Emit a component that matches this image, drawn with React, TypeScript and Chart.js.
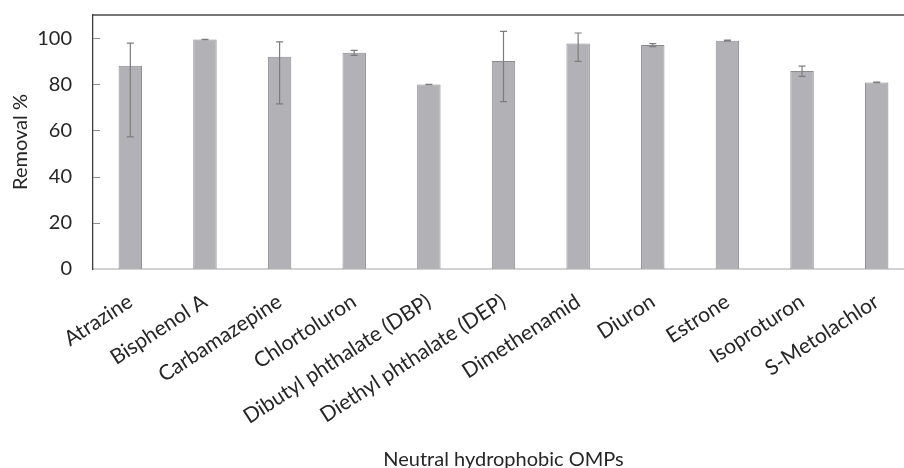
import React, { useEffect, useRef } from "react";
import { Chart, registerables } from "chart.js";

Chart.register(...registerables);

const categories = [
  "Atrazine",
  "Bisphenol A",
  "Carbamazepine",
  "Chlortoluron",
  "Dibutyl phthalate (DBP)",
  "Diethyl phthalate (DEP)",
  "Dimethenamid",
  "Diuron",
  "Estrone",
  "Isoproturon",
  "S-Metolachlor",
];

// mean removal (%)
const removal = [88.0, 99.4, 91.9, 93.7, 79.9, 90.1, 97.7, 97.0, 98.9, 85.7, 80.8];
// error bar extents (%)
const errLow = [57.2, 99.3, 71.5, 92.5, 79.8, 72.5, 89.9, 96.3, 98.8, 83.4, 80.7];
const errHigh = [97.8, 99.5, 98.4, 94.7, 80.0, 102.9, 102.2, 97.6, 99.1, 87.9, 80.9];

const yTicks = [0, 20, 40, 60, 80, 100];

const xTitle = "Neutral hydrophobic OMPs";
const yTitle = "Removal %";

const FONT = "Lato, 'Open Sans', sans-serif";
const TEXT = "#262626";
const FONT_SIZE = 20;

const errorBars = {
  id: "errorBars",
  afterDatasetsDraw(chart: any) {
    const meta = chart.getDatasetMeta(0);
    const y = chart.scales.y;
    const ctx = chart.ctx;
    ctx.save();
    ctx.strokeStyle = "#7c7c7c";
    ctx.lineWidth = 1.2;
    meta.data.forEach((bar: any, i: number) => {
      const x = bar.x;
      const yl = y.getPixelForValue(errLow[i]);
      const yh = y.getPixelForValue(errHigh[i]);
      const cap = 3.5;
      ctx.beginPath();
      ctx.moveTo(x, yl);
      ctx.lineTo(x, yh);
      ctx.moveTo(x - cap, yl);
      ctx.lineTo(x + cap, yl);
      ctx.moveTo(x - cap, yh);
      ctx.lineTo(x + cap, yh);
      ctx.stroke();
    });
    ctx.restore();
  },
};

// inward y tick marks, top frame line and the two axis titles
const frameAndTitles = {
  id: "frameAndTitles",
  afterDraw(chart: any) {
    const { left, right, top, bottom } = chart.chartArea;
    const y = chart.scales.y;
    const ctx = chart.ctx;
    ctx.save();

    ctx.strokeStyle = "#8e8e8e";
    ctx.lineWidth = 1.2;
    ctx.beginPath();
    yTicks.forEach((v) => {
      if (v === 0) return;
      const py = Math.round(y.getPixelForValue(v)) + 0.5;
      ctx.moveTo(left, py);
      ctx.lineTo(left + 7, py);
    });
    ctx.stroke();

    ctx.strokeStyle = "#4a4a4a";
    ctx.lineWidth = 1.3;
    ctx.beginPath();
    ctx.moveTo(left, top);
    ctx.lineTo(right, top);
    ctx.stroke();

    ctx.fillStyle = TEXT;
    ctx.font = `${FONT_SIZE}px ${FONT}`;
    ctx.textAlign = "center";
    ctx.textBaseline = "alphabetic";
    ctx.fillText(xTitle, (left + right) / 2, 466);

    ctx.translate(27, (top + bottom) / 2);
    ctx.rotate(-Math.PI / 2);
    ctx.fillText(yTitle, 0, 0);
    ctx.restore();
  },
};

export default function App() {
  const ref = useRef<HTMLCanvasElement>(null);

  useEffect(() => {
    if (!ref.current) return;
    const chart = new Chart(ref.current, {
      type: "bar",
      data: {
        labels: categories,
        datasets: [
          {
            data: removal,
            backgroundColor: "#b2b2b6",
            borderColor: "#8c8c90",
            borderWidth: 1,
            categoryPercentage: 1,
            barPercentage: 0.314,
          },
        ],
      },
      options: {
        animation: false,
        responsive: false,
        layout: { padding: { top: 15, right: 11, left: 0, bottom: 0 } },
        plugins: {
          legend: { display: false },
          tooltip: { enabled: false },
        },
        scales: {
          x: {
            grid: { display: false },
            border: { display: true, color: "#d2d2d2", width: 2 },
            ticks: {
              autoSkip: false,
              maxRotation: 33,
              minRotation: 33,
              padding: 12,
              color: TEXT,
              font: { family: FONT, size: 21 },
            },
            afterFit(axis: any) {
              axis.height = 206;
              axis.paddingLeft = 0;
              axis.paddingRight = 0;
            },
          },
          y: {
            min: 0,
            max: 110,
            afterBuildTicks(axis: any) {
              axis.ticks = yTicks.map((v) => ({ value: v }));
            },
            grid: { display: false, drawTicks: false },
            border: { display: true, color: "#3c3c3c", width: 1.3 },
            ticks: {
              padding: 21,
              color: TEXT,
              font: { family: FONT, size: FONT_SIZE },
            },
            afterFit(axis: any) {
              axis.width = 93;
              axis.paddingTop = 0;
              axis.paddingBottom = 0;
            },
          },
        },
      },
      plugins: [errorBars, frameAndTitles],
    });
    return () => chart.destroy();
  }, []);

  return (
    <div
      style={{
        position: "fixed",
        left: 0,
        top: 0,
        width: 904,
        height: 468,
        overflow: "hidden",
        background: "#ffffff",
      }}
    >
      <canvas ref={ref} width={925} height={475} style={{ display: "block" }} />
    </div>
  );
}
